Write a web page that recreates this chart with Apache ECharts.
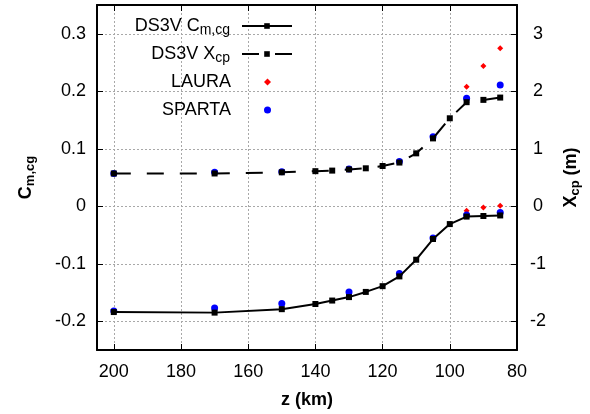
<!DOCTYPE html>
<html>
<head>
<meta charset="utf-8">
<script src="https://cdn.jsdelivr.net/npm/echarts@6/dist/echarts.min.js"></script>
<style>
html,body{margin:0;padding:0;background:#fff;}
#chart{width:590px;height:414px;}
</style>
</head>
<body>
<div id="chart"></div>
<script>
// ---- data ----
const ds3vAlt = [200, 170, 150, 140, 135, 130, 125, 120, 115, 110, 105, 100, 95, 90, 85];
const ds3vCm  = [-0.184, -0.185, -0.179, -0.170, -0.164, -0.158, -0.149, -0.139, -0.122, -0.093, -0.057, -0.031, -0.018, -0.017, -0.016];
const ds3vXcp = [0.57, 0.57, 0.59, 0.61, 0.62, 0.64, 0.66, 0.70, 0.76, 0.92, 1.18, 1.53, 1.81, 1.85, 1.89];

const lauraAlt = [95, 90, 85];
const lauraCm  = [-0.008, -0.002, 0.001];
const lauraXcp = [2.08, 2.44, 2.75];

const spartaAlt = [200, 170, 150, 130, 115, 105, 95, 85];
const spartaCm  = [-0.182, -0.177, -0.169, -0.149, -0.117, -0.055, -0.015, -0.011];
const spartaXcp = [0.57, 0.59, 0.60, 0.65, 0.78, 1.21, 1.88, 2.11];

const cmTicks = [-0.2, -0.1, 0, 0.1, 0.2, 0.3];
const xcpTicks = [-2, -1, 0, 1, 2, 3];
const legendNames = ['DS3V Cm', 'DS3V Xcp', 'LAURA', 'SPARTA'];

const zip = (a, b) => a.map((v, i) => [v, b[i]]);

const FONT = 'Liberation Sans, Arial, Helvetica, sans-serif';
const gridLine = { show: true, lineStyle: { color: '#a8a8a8', type: [2, 2], width: 1 } };
const frame = { show: true, onZero: false, lineStyle: { color: '#000', width: 2 } };
const tick = { show: true, inside: true, length: 6, lineStyle: { color: '#000', width: 1 } };
const subRich = {
  n: { fontSize: 18, lineHeight: 22, fontFamily: FONT, color: '#000' },
  s: { fontSize: 14, lineHeight: 14, verticalAlign: 'bottom', fontFamily: FONT, color: '#000' }
};
const subRichB = {
  n: { fontSize: 18, lineHeight: 22, fontWeight: 'bold', fontFamily: FONT, color: '#000' },
  s: { fontSize: 13, lineHeight: 13, verticalAlign: 'bottom', fontWeight: 'bold', fontFamily: FONT, color: '#000' }
};
const rowTops = [17, 45, 73, 101];

const legends = legendNames.map((nm, i) => {
  const isLine = i < 2;
  return {
    orient: 'vertical',
    right: isLine ? 297 : 319,
    top: rowTops[i],
    padding: 0,
    align: 'right',
    itemWidth: isLine ? 50 : 7,
    itemHeight: 7,
    selectedMode: false,
    data: [nm],
    formatter: function (name) {
      if (name === 'DS3V Cm') return '{n|DS3V C}{s|m,cg}';
      if (name === 'DS3V Xcp') return '{n|DS3V X}{s|cp}';
      return '{n|' + name + '}';
    },
    textStyle: { fontSize: 18, fontFamily: FONT, color: '#000', padding: [0, isLine ? 7 : 28, 0, 0], rich: subRich }
  };
});

const chart = echarts.init(document.getElementById('chart'));
chart.setOption({
  animation: false,
  backgroundColor: '#fff',
  grid: { left: 97, right: 71, top: 5, bottom: 61, containLabel: false },
  legend: legends,
  xAxis: [{
    type: 'value', min: 80, max: 205, interval: 20, inverse: true, position: 'bottom',
    name: 'z (km)', nameLocation: 'middle', nameGap: 41,
    nameTextStyle: { fontSize: 18, fontWeight: 'bold', fontFamily: FONT, color: '#000' },
    axisLine: frame, axisTick: tick, splitLine: gridLine,
    axisLabel: { fontSize: 18, fontFamily: FONT, color: '#000', margin: 13 }
  }, {
    type: 'value', min: 80, max: 205, interval: 20, inverse: true, position: 'top',
    axisLine: frame, axisTick: tick, splitLine: { show: false }, axisLabel: { show: false }
  }],
  yAxis: [{
    type: 'value', min: -0.25, max: 0.35, position: 'left',
    name: '{n|C}{s|m,cg}', nameLocation: 'middle', nameGap: 60, nameRotate: 90,
    nameTextStyle: { rich: subRichB },
    axisLine: frame,
    axisTick: Object.assign({}, tick, { customValues: cmTicks }),
    splitLine: gridLine,
    axisLabel: { customValues: cmTicks, fontSize: 18, fontFamily: FONT, color: '#000', margin: 11 }
  }, {
    type: 'value', min: -2.5, max: 3.5, position: 'right',
    name: '{n|X}{s|cp}{n| (m)}', nameLocation: 'middle', nameGap: 43, nameRotate: 90,
    nameTextStyle: { rich: subRichB },
    axisLine: frame,
    axisTick: Object.assign({}, tick, { customValues: xcpTicks }),
    splitLine: { show: false },
    axisLabel: { customValues: xcpTicks, fontSize: 18, fontFamily: FONT, color: '#000', margin: 21, align: 'center' }
  }],
  series: [{
    name: 'DS3V Cm', type: 'line', xAxisIndex: 0, yAxisIndex: 0,
    data: zip(ds3vAlt, ds3vCm),
    symbol: 'rect', symbolSize: 6, showSymbol: true,
    itemStyle: { color: '#000' },
    lineStyle: { color: '#000', width: 2 }
  }, {
    name: 'DS3V Xcp', type: 'line', xAxisIndex: 0, yAxisIndex: 1,
    data: zip(ds3vAlt, ds3vXcp),
    symbol: 'rect', symbolSize: 6, showSymbol: true,
    itemStyle: { color: '#000' },
    lineStyle: { color: '#000', width: 2, type: [17, 16] }
  }, {
    name: 'LAURA', type: 'scatter', xAxisIndex: 0, yAxisIndex: 0,
    data: zip(lauraAlt, lauraCm), symbol: 'diamond', symbolSize: 6, symbolKeepAspect: true,
    itemStyle: { color: '#ff0000', opacity: 1 }
  }, {
    name: 'LAURA', type: 'scatter', xAxisIndex: 0, yAxisIndex: 1,
    data: zip(lauraAlt, lauraXcp), symbol: 'diamond', symbolSize: 6, symbolKeepAspect: true,
    itemStyle: { color: '#ff0000', opacity: 1 }
  }, {
    name: 'SPARTA', type: 'scatter', xAxisIndex: 0, yAxisIndex: 0,
    data: zip(spartaAlt, spartaCm), symbol: 'circle', symbolSize: 7,
    itemStyle: { color: '#0000ff', opacity: 1 }
  }, {
    name: 'SPARTA', type: 'scatter', xAxisIndex: 0, yAxisIndex: 1,
    data: zip(spartaAlt, spartaXcp), symbol: 'circle', symbolSize: 7,
    itemStyle: { color: '#0000ff', opacity: 1 }
  }]
});
</script>
</body>
</html>
